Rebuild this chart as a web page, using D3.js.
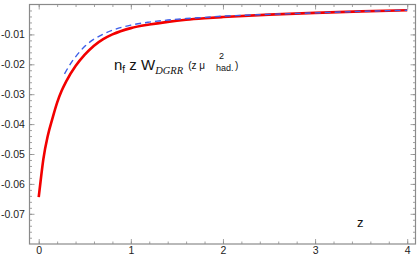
<html>
<script src='https://d3js.org/d3.v7.min.js'></script>
<style>
body {margin:0; background:#fff;}
text {font-family: "Liberation Sans", Arial, sans-serif;}
</style>
<body onload='init()'>
<svg width=417 height=258></svg>
<script>
// red solid curve
var zRed = [0, 0.02, 0.05, 0.1, 0.15, 0.2, 0.25, 0.3, 0.4, 0.5, 0.6, 0.7, 0.8, 1.0, 1.2, 1.4, 1.6, 1.8, 2.0, 2.5, 3.0, 3.5, 4.0];
var wRed = [-0.0644, -0.0592, -0.0518, -0.0437, -0.0380, -0.0328, -0.0288, -0.0256, -0.0206, -0.0168, -0.0138, -0.0116, -0.0100, -0.0079, -0.0067, -0.0058, -0.0051, -0.0046, -0.0042, -0.0034, -0.0028, -0.0023, -0.0019];
// blue dashed curve
var zBlue = [0.28, 0.35, 0.4, 0.5, 0.6, 0.7, 0.8, 1.0, 1.2, 1.4, 1.6, 1.8, 2.0, 2.5, 3.0, 3.5, 4.0];
var wBlue = [-0.0232, -0.0196, -0.0175, -0.0140, -0.0116, -0.0099, -0.0086, -0.0069, -0.0059, -0.0052, -0.0047, -0.0043, -0.0039, -0.0033, -0.0028, -0.0023, -0.0019];
var xTicks = [0, 1, 2, 3, 4];
var yTicks = [-0.01, -0.02, -0.03, -0.04, -0.05, -0.06, -0.07];

function init() {
var svg = d3.select("svg");
var x = d3.scaleLinear().domain([-0.1, 4.09]).range([29.5, 415.5]);
var y = d3.scaleLinear().domain([-0.0801, 0]).range([244, 4.5]);
var grey = "#8a8a8a";

var minorX = d3.range(-0.0, 4.09, 0.2);
var minorY = d3.range(-0.078, 0, 0.002);

var g = svg.append("g");
// inward ticks, all four sides
g.append("g").attr("transform", "translate(0,244)")
  .call(d3.axisBottom(x).tickValues(minorX).tickSize(-2.5).tickFormat(""));
g.append("g").attr("transform", "translate(0,244)")
  .call(d3.axisBottom(x).tickValues(xTicks).tickSize(-5).tickPadding(3).tickFormat(function(d){return String(d);}));
g.append("g").attr("transform", "translate(0,4.5)")
  .call(d3.axisTop(x).tickValues(minorX).tickSize(-2.5).tickFormat(""));
g.append("g").attr("transform", "translate(0,4.5)")
  .call(d3.axisTop(x).tickValues(xTicks).tickSize(-5).tickFormat(""));
g.append("g").attr("transform", "translate(29.5,0)")
  .call(d3.axisLeft(y).tickValues(minorY).tickSize(-2.5).tickFormat(""));
var yAx = g.append("g").attr("transform", "translate(29.5,0)")
  .call(d3.axisLeft(y).tickValues(yTicks).tickSize(-5).tickFormat(function(d){return d.toFixed(2);}));
yAx.selectAll(".tick text").attr("x", -28.5).attr("text-anchor", "start");
g.append("g").attr("transform", "translate(415.5,0)")
  .call(d3.axisRight(y).tickValues(minorY).tickSize(-2.5).tickFormat(""));
g.append("g").attr("transform", "translate(415.5,0)")
  .call(d3.axisRight(y).tickValues(yTicks).tickSize(-5).tickFormat(""));
g.selectAll(".domain").remove();
g.selectAll(".tick line").attr("stroke", grey).attr("stroke-width", 0.8);
g.selectAll(".tick text").attr("fill", "#222").style("font-size", "10.5px")
  .style("font-family", "Liberation Sans, Arial, sans-serif");

svg.append("rect").attr("x", 29.5).attr("y", 4.5).attr("width", 386).attr("height", 239.5)
  .attr("fill", "none").attr("stroke", grey).attr("stroke-width", 1.2);

var line = d3.line().x(function(d){return x(d[0]);}).y(function(d){return y(d[1]);})
  .curve(d3.curveMonotoneX);

svg.append("path").datum(d3.zip(zRed, wRed)).attr("d", line)
  .attr("fill", "none").attr("stroke", "#f20000").attr("stroke-width", 2.6);
svg.append("path").datum(d3.zip(zBlue, wBlue)).attr("d", line)
  .attr("fill", "none").attr("stroke", "#3d5ee8").attr("stroke-width", 1.4)
  .attr("stroke-dasharray", "6,4");

// formula label
var t = svg.append("text").attr("x", 114).attr("y", 70).attr("fill", "#111").style("font-size", "15px");
t.append("tspan").text("n");
t.append("tspan").attr("dy", 3).style("font-size", "10px").text("f");
t.append("tspan").attr("dy", -3).text(" z W");
t.append("tspan").attr("dy", 4).style("font-size", "10.5px").style("font-style", "italic")
  .style("font-family", "Liberation Serif, Times New Roman, serif").text("DGRR");
t.append("tspan").attr("dy", -5).attr("dx", 5).style("font-size", "10px").text("(z \u03bc");
var t2 = svg.append("text").attr("fill", "#111").style("font-size", "9px");
t2.append("tspan").attr("x", 219).attr("y", 59).text("2");
t2.append("tspan").attr("x", 216).attr("y", 71).text("had.");
svg.append("text").attr("x", 235).attr("y", 69).attr("fill", "#111").style("font-size", "10px").text(")");

svg.append("text").attr("x", 357).attr("y", 227).attr("fill", "#111").style("font-size", "13px").text("z");
}
</script>
</body>
</html>
